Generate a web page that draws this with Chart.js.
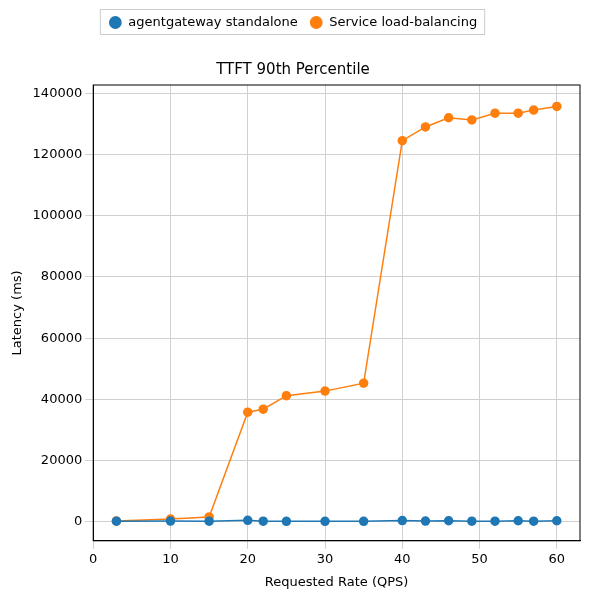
<!DOCTYPE html>
<html lang="en">
<head>
    <meta charset="UTF-8">
    <title>TTFT 90th Percentile</title>
    <script src="https://cdn.jsdelivr.net/npm/chart.js"></script>
    <style>
        body { margin: 0; background: #fff; }
        #wrap { width: 590px; height: 598px; }
    </style>
</head>
<body>
    <div id="wrap"><canvas id="chart" width="590" height="598"></canvas></div>
    <script>
        const rates = [3, 10, 15, 20, 22, 25, 30, 35, 40, 43, 46, 49, 52, 55, 57, 60];
        const standalone = [200, 250, 200, 500, 200, 150, 150, 150, 400, 250, 350, 200, 200, 350, 200, 350];
        const loadBalancing = [300, 900, 1600, 35800, 36800, 41200, 42700, 45300, 124500, 129000, 132000, 131300, 133500, 133500, 134500, 135700];

        const toPoints = ys => rates.map((x, i) => ({ x: x, y: ys[i] }));

        // frame around the legend items and around the plot, like matplotlib
        const frames = {
            id: 'frames',
            afterDraw(chart) {
                const ctx = chart.ctx;
                const boxes = chart.legend.legendHitBoxes;
                ctx.save();
                if (boxes && boxes.length) {
                    const first = boxes[0], last = boxes[boxes.length - 1];
                    ctx.strokeStyle = '#cccccc';
                    ctx.lineWidth = 1;
                    ctx.strokeRect(first.left - 8.5, first.top - 6.5, last.left + last.width - first.left + 16, first.height + 12);
                }
                const a = chart.chartArea;
                ctx.strokeStyle = '#000';
                ctx.strokeRect(a.left, a.top, a.right - a.left, a.bottom - a.top);
                ctx.restore();
            }
        };

        new Chart(document.getElementById('chart').getContext('2d'), {
            type: 'line',
            data: {
                datasets: [
                    { label: 'agentgateway standalone', data: toPoints(standalone), borderColor: '#1f77b4', backgroundColor: '#1f77b4', pointRadius: 4, borderWidth: 1.5 },
                    { label: 'Service load-balancing', data: toPoints(loadBalancing), borderColor: '#ff7f0e', backgroundColor: '#ff7f0e', pointRadius: 4, borderWidth: 1.5 }
                ]
            },
            plugins: [frames],
            options: {
                responsive: false,
                animation: false,
                layout: { padding: { left: 6, right: 10, top: 4, bottom: 4 } },
                plugins: {
                    legend: {
                        position: 'top',
                        weight: 3000,
                        labels: { usePointStyle: true, pointStyle: 'circle', boxHeight: 8, color: '#000', font: { family: 'DejaVu Sans', size: 13 }, padding: 12 }
                    },
                    title: {
                        display: true, text: 'TTFT 90th Percentile', color: '#000',
                        font: { family: 'DejaVu Sans', size: 15, weight: 'normal' },
                        padding: { top: 22, bottom: 6 }
                    },
                    tooltip: { enabled: false }
                },
                scales: {
                    x: {
                        type: 'linear', min: 0, max: 63,
                        afterBuildTicks: s => { s.ticks = [0, 10, 20, 30, 40, 50, 60].map(v => ({ value: v })); },
                        title: { display: true, text: 'Requested Rate (QPS)', color: '#000', font: { family: 'DejaVu Sans', size: 13 } },
                        ticks: { color: '#000', font: { family: 'DejaVu Sans', size: 13 } },
                        grid: { color: '#d0d0d0' },
                        border: { color: '#000' }
                    },
                    y: {
                        min: -6200, max: 142700,
                        afterBuildTicks: s => { s.ticks = [0, 20000, 40000, 60000, 80000, 100000, 120000, 140000].map(v => ({ value: v })); },
                        title: { display: true, text: 'Latency (ms)', color: '#000', font: { family: 'DejaVu Sans', size: 13 } },
                        ticks: { color: '#000', font: { family: 'DejaVu Sans', size: 13 }, callback: v => String(v) },
                        grid: { color: '#d0d0d0' },
                        border: { color: '#000' }
                    }
                }
            }
        });
    </script>
</body>
</html>
